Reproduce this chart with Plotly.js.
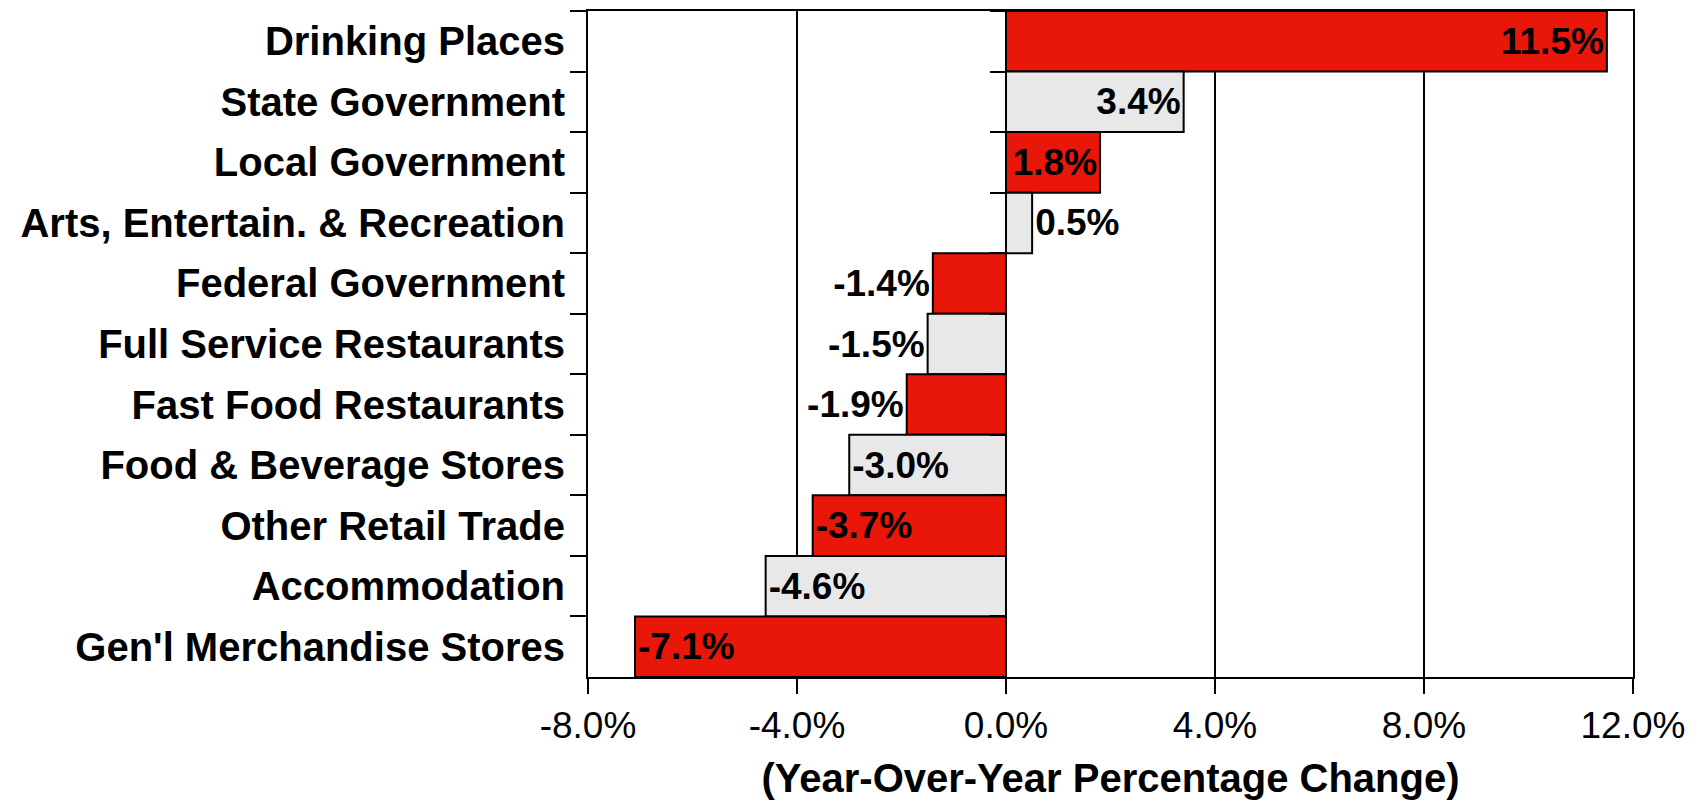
<!DOCTYPE html>
<html>
<head>
<meta charset="utf-8">
<script src="https://cdn.plot.ly/plotly-3.0.1.min.js"></script>
<style>html,body{margin:0;padding:0;background:#fff;}#chart{width:1702px;height:800px;}</style>
</head>
<body>
<div id="chart"></div>
<script>
// Data (top-to-bottom order as displayed)
var categories = [
  "Drinking Places",
  "State Government",
  "Local Government",
  "Arts, Entertain. & Recreation",
  "Federal Government",
  "Full Service Restaurants",
  "Fast Food Restaurants",
  "Food & Beverage Stores",
  "Other Retail Trade",
  "Accommodation",
  "Gen'l Merchandise Stores"
];
var changes = [11.5, 3.4, 1.8, 0.5, -1.4, -1.5, -1.9, -3.0, -3.7, -4.6, -7.1];
var labelPositions = ["inside","inside","inside","outside","outside","outside","outside","inside","inside","inside","inside"];
var xTickValues = [-8, -4, 0, 4, 8, 12];
var xTickLabels = ["-8.0%", "-4.0%", "0.0%", "4.0%", "8.0%", "12.0%"];
var axisTitle = "(Year-Over-Year Percentage Change)";

var RED = "#E9170A", GREY = "#E8E8E8";
var colors = changes.map(function (v, i) { return i % 2 === 0 ? RED : GREY; });
var labels = changes.map(function (v) { return v.toFixed(1) + "%"; });
var FONT = "Liberation Sans, Arial, sans-serif";

var bars = {
  type: "bar",
  orientation: "h",
  x: changes,
  y: categories,
  marker: { color: colors, line: { color: "#000", width: 2 } },
  text: labels,
  textposition: labelPositions,
  insidetextanchor: "end",
  constraintext: "none",
  textangle: 0,
  cliponaxis: false,
  textfont: { family: FONT, size: 37, color: "#000", weight: "bold" },
  insidetextfont: { family: FONT, size: 37, color: "#000", weight: "bold" },
  outsidetextfont: { family: FONT, size: 37, color: "#000", weight: "bold" },
  hoverinfo: "skip",
  showlegend: false
};

// invisible helper trace so the zero-crossing axis gets category boundary ticks
var helper = {
  type: "scatter",
  mode: "none",
  x: changes.map(function () { return 0; }),
  y: categories,
  yaxis: "y2",
  hoverinfo: "skip",
  showlegend: false
};

var layout = {
  width: 1702,
  height: 800,
  margin: { l: 588, r: 69, t: 11, b: 123 },
  paper_bgcolor: "#fff",
  plot_bgcolor: "#fff",
  bargap: 0,
  showlegend: false,
  font: { family: FONT, color: "#000" },
  xaxis: {
    range: [-8, 12],
    tickmode: "array",
    tickvals: xTickValues,
    ticktext: xTickLabels,
    ticks: "outside",
    ticklen: 15,
    tickwidth: 2,
    tickcolor: "#000",
    tickfont: { family: FONT, size: 37, color: "#000" },
    showgrid: true,
    gridcolor: "#000",
    gridwidth: 1.5,
    zeroline: true,
    zerolinecolor: "#000",
    zerolinewidth: 2,
    showline: true,
    linecolor: "#000",
    linewidth: 2,
    mirror: true,
    automargin: false,
    title: { text: axisTitle, font: { family: FONT, size: 40, color: "#000", weight: "bold" }, standoff: 20 }
  },
  yaxis: {
    type: "category",
    range: [10.5, -0.5],
    tickson: "boundaries",
    ticks: "outside",
    ticklen: 16,
    tickwidth: 2,
    tickcolor: "#000",
    ticklabelstandoff: 13,
    tickfont: { family: FONT, size: 40, color: "#000", weight: "bold" },
    showgrid: false,
    showline: true,
    linecolor: "#000",
    linewidth: 2,
    mirror: true,
    automargin: false,
    fixedrange: true
  },
  yaxis2: {
    type: "category",
    overlaying: "y",
    anchor: "free",
    position: 0.4,
    side: "left",
    range: [10.5, -0.5],
    tickson: "boundaries",
    ticks: "outside",
    ticklen: 16,
    tickwidth: 2,
    tickcolor: "#000",
    showticklabels: false,
    showgrid: false,
    showline: false,
    zeroline: false,
    automargin: false
  }
};

Plotly.newPlot("chart", [bars, helper], layout, { displayModeBar: false, staticPlot: true });
</script>
</body>
</html>
